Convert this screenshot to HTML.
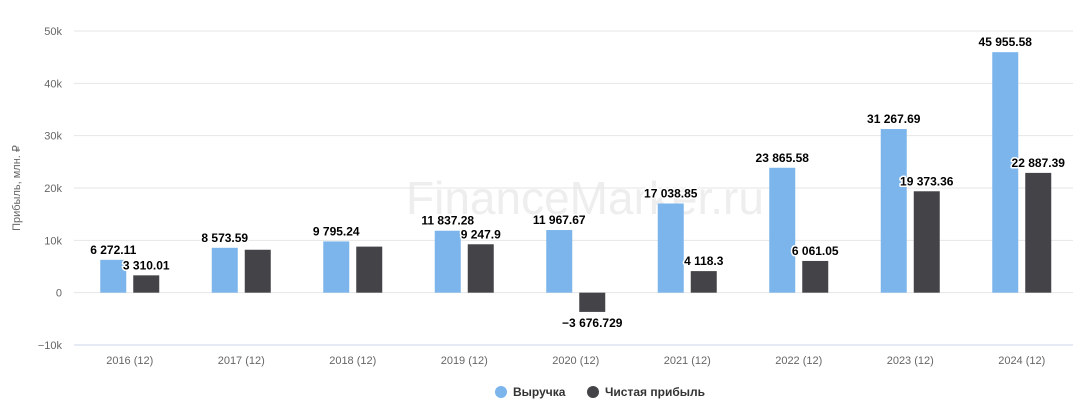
<!DOCTYPE html>
<html><head><meta charset="utf-8"><style>
body{margin:0;background:#fff;width:1073px;height:410px;overflow:hidden}
svg{font-family:"Liberation Sans","DejaVu Sans",sans-serif}
</style></head><body>
<svg id="c" width="1073" height="410"></svg>
<script>
const categories=["2016 (12)","2017 (12)","2018 (12)","2019 (12)","2020 (12)","2021 (12)","2022 (12)","2023 (12)","2024 (12)"];
const revenue=[6272.11,8573.59,9795.24,11837.28,11967.67,17038.85,23865.58,31267.69,45955.58];
const profit=[3310.01,8200,8800,9247.9,-3676.729,4118.3,6061.05,19373.36,22887.39];
const revenueLabels=["6 272.11","8 573.59","9 795.24","11 837.28","11 967.67","17 038.85","23 865.58","31 267.69","45 955.58"];
const profitLabels=["3 310.01","","","9 247.9","−3 676.729","4 118.3","6 061.05","19 373.36","22 887.39"];
const yTicks=[-10000,0,10000,20000,30000,40000,50000];
const yTickLabels=["−10k","0","10k","20k","30k","40k","50k"];
const NS="http://www.w3.org/2000/svg",svg=document.getElementById('c');
const x0=74,x1=1073,yTop=31,yBot=345,vMin=-10000,vMax=50000;
const y=v=>yBot-(v-vMin)/(vMax-vMin)*(yBot-yTop);
const band=111.5;
const cx=i=>x0+band*(i+0.5);
function el(t,a,txt){const e=document.createElementNS(NS,t);for(const k in a)e.setAttribute(k,a[k]);if(txt!=null)e.textContent=txt;svg.appendChild(e);return e;}
let w=el('text',{x:585,y:214,'font-size':46,fill:'#eeeeee','text-anchor':'middle'},'FinanceMarker.ru');


yTicks.forEach((v,i)=>{
 let g=el('line',{x1:x0,x2:x1,y1:y(v),y2:y(v),stroke:i==0?'#ccd6eb':'#e6e6e6','stroke-width':1});
 
 
 let t=el('text',{x:62,y:y(v)+4,'font-size':11,fill:'#666','text-anchor':'end'},yTickLabels[i]);
 
 
});
let yt=el('text',{x:20,y:188,'font-size':11,fill:'#666','text-anchor':'middle',transform:'rotate(-90 20 188)'},'Прибыль, млн. ₽');


const bw=26,gap=7;
function lbl(xc,yy,s){
 if(!s)return;
 let t=el('text',{x:xc,y:yy,'font-size':12,'font-weight':'bold',fill:'#000','text-anchor':'middle',stroke:'#fff','stroke-width':3,'paint-order':'stroke','stroke-linejoin':'round'},s);
 
 
}
categories.forEach((c,i)=>{
 const c0=cx(i);
 const bx=c0-gap/2-bw, px=c0+gap/2;
 let r=el('rect',{x:bx,y:Math.min(y(revenue[i]),y(0)),width:bw,height:Math.abs(y(revenue[i])-y(0)),fill:'#7cb5ec'});
 
 
 let p=el('rect',{x:px,y:Math.min(y(profit[i]),y(0)),width:bw,height:Math.abs(y(profit[i])-y(0)),fill:'#434348'});
 
 
 lbl(bx+bw/2,y(revenue[i])-6,revenueLabels[i]);
 if(profit[i]<0) lbl(px+bw/2,y(profit[i])+15,profitLabels[i]);
 else lbl(px+bw/2,y(profit[i])-6,profitLabels[i]);
 let t=el('text',{x:c0,y:364,'font-size':11,fill:'#666','text-anchor':'middle'},c);
 
 
});
let c1=el('circle',{cx:501,cy:392,r:6,fill:'#7cb5ec'});


let l1=el('text',{x:513,y:396,'font-size':12,'font-weight':'bold',fill:'#333'},'Выручка');


let c2=el('circle',{cx:593,cy:392,r:6,fill:'#434348'});


let l2=el('text',{x:605,y:396,'font-size':12,'font-weight':'bold',fill:'#333'},'Чистая прибыль');


</script>
</body></html>
